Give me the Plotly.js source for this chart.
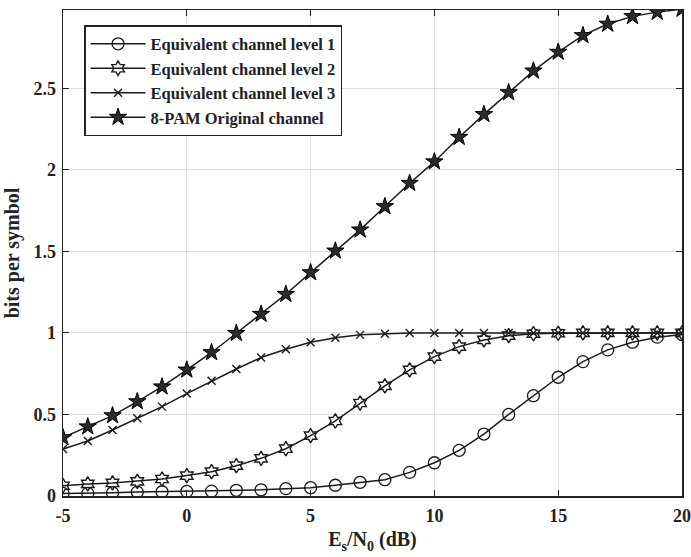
<!DOCTYPE html>
<html>
<head>
<meta charset="utf-8">
<script src="https://cdn.plot.ly/plotly-3.0.1.min.js"></script>
<style>html,body{margin:0;padding:0;background:#fff;}#chart{width:691px;height:557px;}</style>
</head>
<body>
<div id="chart"></div>
<script>
const snr = [-5,-4,-3,-2,-1,0,1,2,3,4,5,6,7,8,9,10,11,12,13,14,15,16,17,18,19,20];
const level1 = [0.016,0.016,0.02,0.024,0.026,0.028,0.03,0.035,0.038,0.045,0.051,0.066,0.084,0.10,0.145,0.204,0.28,0.38,0.50,0.615,0.728,0.824,0.896,0.943,0.974,0.99];
const level2 = [0.063,0.074,0.08,0.09,0.104,0.125,0.149,0.186,0.231,0.29,0.37,0.46,0.57,0.675,0.773,0.855,0.916,0.957,0.983,0.995,0.998,1.0,1.0,1.0,1.0,1.0];
const level3 = [0.288,0.337,0.405,0.477,0.548,0.628,0.706,0.779,0.849,0.90,0.943,0.971,0.988,0.995,0.999,1.0,1.0,1.0,1.0,1.0,1.0,1.0,1.0,1.0,1.0,1.0];
const pam8 = [0.358,0.425,0.493,0.579,0.67,0.773,0.88,0.998,1.115,1.237,1.37,1.503,1.632,1.775,1.918,2.05,2.20,2.34,2.474,2.607,2.722,2.824,2.894,2.941,2.967,2.985];
const names = ["Equivalent channel level 1","Equivalent channel level 2","Equivalent channel level 3","8-PAM Original channel"];
const xTicks = [-5,0,5,10,15,20];
const xTickText = ["-5","0","5","10","15","20"];
const yTicks = [0,0.5,1,1.5,2,2.5];
const yTickText = ["0","0.5","1","1.5","2","2.5"];

const lineStyle = {color:'#1a1a1a', width:1.5};
const traces = [
  {x:snr, y:level1, name:names[0], mode:'lines+markers', line:lineStyle,
   marker:{symbol:'circle-open', size:12, color:'#1a1a1a', line:{width:1.3}}},
  {x:snr, y:level2, name:names[1], mode:'lines+markers', line:lineStyle,
   marker:{symbol:'hexagram-open', size:11, color:'#1a1a1a', line:{width:1.4}}},
  {x:snr, y:level3, name:names[2], mode:'lines+markers', line:lineStyle,
   marker:{symbol:'x-thin-open', size:8, color:'#1a1a1a', line:{width:1.4}}},
  {x:snr, y:pam8, name:names[3], mode:'lines+markers', line:lineStyle,
   marker:{symbol:'star', size:13, color:'#2a2a2a', line:{color:'#000', width:1}}}
];

const fam = '"Liberation Serif", "Times New Roman", serif';
const f = (size) => ({family:fam, size:size, color:'#222', weight:'bold'});
const bold = (arr) => arr.map(s => '<b>' + s + '</b>');
const layout = {
  width:691, height:557,
  margin:{l:63, r:9, t:10, b:61},
  paper_bgcolor:'#fff', plot_bgcolor:'#fff',
  font:f(16),
  showlegend:true,
  xaxis:{
    range:[-5,20], tickvals:xTicks, ticktext:bold(xTickText),
    showgrid:true, gridcolor:'#dedede', gridwidth:1,
    showline:true, linecolor:'#222', linewidth:1.5, mirror:'ticks',
    ticks:'inside', ticklen:6, tickcolor:'#222', zeroline:false,
    tickfont:f(18), ticklabelstandoff:3,
    title:{text:'<b>E<sub>s</sub>/N<sub>0</sub> (dB)</b>', font:f(20), standoff:7}
  },
  yaxis:{
    range:[0,2.98], tickvals:yTicks, ticktext:bold(yTickText),
    showgrid:true, gridcolor:'#dedede', gridwidth:1,
    showline:true, linecolor:'#222', linewidth:1.5, mirror:'ticks',
    ticks:'inside', ticklen:6, tickcolor:'#222', zeroline:false,
    tickfont:f(18), ticklabelstandoff:2,
    title:{text:'<b>bits per symbol</b>', font:f(20), standoff:8}
  },
  legend:{
    x:0.034, y:0.969, xanchor:'left', yanchor:'top',
    bgcolor:'#fff', bordercolor:'#222', borderwidth:1.5,
    font:f(16.5),
    itemwidth:55, tracegroupgap:0
  }
};
Plotly.newPlot('chart', traces, layout, {displayModeBar:false, staticPlot:true});
</script>
</body>
</html>
